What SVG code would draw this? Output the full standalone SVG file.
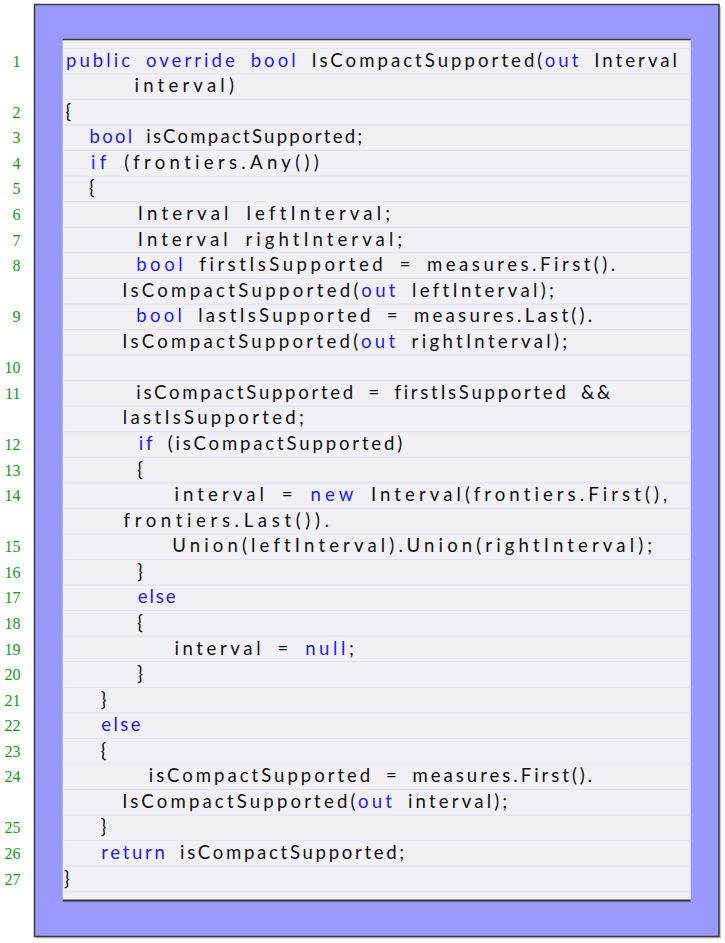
<svg xmlns="http://www.w3.org/2000/svg" width="725" height="943" viewBox="0 0 725 943">
<style>
.code{font-family:Lato,"Liberation Sans",sans-serif;font-size:18.6px;fill:#111;letter-spacing:2.3px;word-spacing:5px}
.k{fill:#1c1cff}
.ln{font-family:"Liberation Serif",serif;font-size:16px;fill:#119a11;text-anchor:end}
</style>
<g id="frame">
<rect x="36" y="6.5" width="685" height="932" fill="#c8c8c8"/>
<rect x="34.5" y="4.5" width="684.5" height="932" fill="#9999ff" stroke="#3a3a3a" stroke-width="1.5"/>
<rect x="62.7" y="39" width="628" height="862" fill="#f1f0f5"/>
<path d="M62.7 48.3H690.7M62.7 73.9H690.7M62.7 99.4H690.7M62.7 125H690.7M62.7 150.5H690.7M62.7 176.1H690.7M62.7 201.7H690.7M62.7 227.2H690.7M62.7 252.8H690.7M62.7 278.3H690.7M62.7 303.9H690.7M62.7 329.5H690.7M62.7 355H690.7M62.7 380.6H690.7M62.7 406.1H690.7M62.7 431.7H690.7M62.7 457.3H690.7M62.7 482.8H690.7M62.7 508.4H690.7M62.7 533.9H690.7M62.7 559.5H690.7M62.7 585.1H690.7M62.7 610.6H690.7M62.7 636.2H690.7M62.7 661.7H690.7M62.7 687.3H690.7M62.7 712.9H690.7M62.7 738.4H690.7M62.7 764H690.7M62.7 789.5H690.7M62.7 815.1H690.7M62.7 840.7H690.7M62.7 866.2H690.7M62.7 891.8H690.7" stroke="#e3e3f3" stroke-width="1" fill="none"/>
<path d="M62.7 39.5H690.7" stroke="#3a3a3a" stroke-width="1.5"/>
<path d="M62.7 900.5H690.7" stroke="#333" stroke-width="2"/>
</g>
<g id="line-1"><text class="ln" x="20.5" y="66.6">1</text><text class="code" x="66" y="66.6" textLength="613.3" lengthAdjust="spacing"><tspan class="k">public override bool</tspan> IsCompactSupported(<tspan class="k">out</tspan> Interval</text><text class="code" x="134.5" y="92.2" textLength="101.7" lengthAdjust="spacing">interval)</text></g>
<g id="line-2"><text class="ln" x="20.5" y="117.7">2</text><text class="code" x="65.5" y="117.7">{</text></g>
<g id="line-3"><text class="ln" x="20.5" y="143.3">3</text><text class="code" x="89.5" y="143.3" textLength="275" lengthAdjust="spacing"><tspan class="k">bool</tspan> isCompactSupported;</text></g>
<g id="line-4"><text class="ln" x="20.5" y="168.8">4</text><text class="code" x="91" y="168.8" textLength="230" lengthAdjust="spacing"><tspan class="k">if</tspan> (frontiers.Any())</text></g>
<g id="line-5"><text class="ln" x="20.5" y="194.4">5</text><text class="code" x="89" y="194.4">{</text></g>
<g id="line-6"><text class="ln" x="20.5" y="220">6</text><text class="code" x="137.8" y="220" textLength="254.7" lengthAdjust="spacing">Interval leftInterval;</text></g>
<g id="line-7"><text class="ln" x="20.5" y="245.5">7</text><text class="code" x="137.8" y="245.5" textLength="266.7" lengthAdjust="spacing">Interval rightInterval;</text></g>
<g id="line-8"><text class="ln" x="20.5" y="271.1">8</text><text class="code" x="136.2" y="271.1" textLength="481.3" lengthAdjust="spacing"><tspan class="k">bool</tspan> firstIsSupported = measures.First().</text><text class="code" x="122.2" y="296.6" textLength="434" lengthAdjust="spacing">IsCompactSupported(<tspan class="k">out</tspan> leftInterval);</text></g>
<g id="line-9"><text class="ln" x="20.5" y="322.2">9</text><text class="code" x="136.2" y="322.2" textLength="458.3" lengthAdjust="spacing"><tspan class="k">bool</tspan> lastIsSupported = measures.Last().</text><text class="code" x="122.2" y="347.8" textLength="447.3" lengthAdjust="spacing">IsCompactSupported(<tspan class="k">out</tspan> rightInterval);</text></g>
<g id="line-10"><text class="ln" x="20.5" y="373.3">10</text></g>
<g id="line-11"><text class="ln" x="20.5" y="398.9">11</text><text class="code" x="136.2" y="398.9" textLength="476.3" lengthAdjust="spacing">isCompactSupported = firstIsSupported &amp;&amp;</text><text class="code" x="122.8" y="424.4" textLength="183.4" lengthAdjust="spacing">lastIsSupported;</text></g>
<g id="line-12"><text class="ln" x="20.5" y="450">12</text><text class="code" x="138.8" y="450" textLength="265.7" lengthAdjust="spacing"><tspan class="k">if</tspan> (isCompactSupported)</text></g>
<g id="line-13"><text class="ln" x="20.5" y="475.6">13</text><text class="code" x="137.3" y="475.6">{</text></g>
<g id="line-14"><text class="ln" x="20.5" y="501.1">14</text><text class="code" x="174.5" y="501.1" textLength="495" lengthAdjust="spacing">interval = <tspan class="k">new</tspan> Interval(frontiers.First(),</text><text class="code" x="123.5" y="526.7" textLength="207.7" lengthAdjust="spacing">frontiers.Last()).</text></g>
<g id="line-15"><text class="ln" x="20.5" y="552.2">15</text><text class="code" x="172.2" y="552.2" textLength="482.3" lengthAdjust="spacing">Union(leftInterval).Union(rightInterval);</text></g>
<g id="line-16"><text class="ln" x="20.5" y="577.8">16</text><text class="code" x="137.3" y="577.8">}</text></g>
<g id="line-17"><text class="ln" x="20.5" y="603.4">17</text><text class="code k" x="137.8" y="603.4" textLength="40" lengthAdjust="spacing">else</text></g>
<g id="line-18"><text class="ln" x="20.5" y="628.9">18</text><text class="code" x="137.3" y="628.9">{</text></g>
<g id="line-19"><text class="ln" x="20.5" y="654.5">19</text><text class="code" x="174.5" y="654.5" textLength="181.7" lengthAdjust="spacing">interval = <tspan class="k">null</tspan>;</text></g>
<g id="line-20"><text class="ln" x="20.5" y="680">20</text><text class="code" x="137.3" y="680">}</text></g>
<g id="line-21"><text class="ln" x="20.5" y="705.6">21</text><text class="code" x="100.7" y="705.6">}</text></g>
<g id="line-22"><text class="ln" x="20.5" y="731.2">22</text><text class="code k" x="101.2" y="731.2" textLength="41.6" lengthAdjust="spacing">else</text></g>
<g id="line-23"><text class="ln" x="20.5" y="756.7">23</text><text class="code" x="100.7" y="756.7">{</text></g>
<g id="line-24"><text class="ln" x="20.5" y="782.3">24</text><text class="code" x="148.8" y="782.3" textLength="445.7" lengthAdjust="spacing">isCompactSupported = measures.First().</text><text class="code" x="122.2" y="807.8" textLength="387.3" lengthAdjust="spacing">IsCompactSupported(<tspan class="k">out</tspan> interval);</text></g>
<g id="line-25"><text class="ln" x="20.5" y="833.4">25</text><text class="code" x="100.7" y="833.4">}</text></g>
<g id="line-26"><text class="ln" x="20.5" y="859">26</text><text class="code" x="101.2" y="859" textLength="305.3" lengthAdjust="spacing"><tspan class="k">return</tspan> isCompactSupported;</text></g>
<g id="line-27"><text class="ln" x="20.5" y="884.5">27</text><text class="code" x="64" y="884.5">}</text></g>
</svg>
